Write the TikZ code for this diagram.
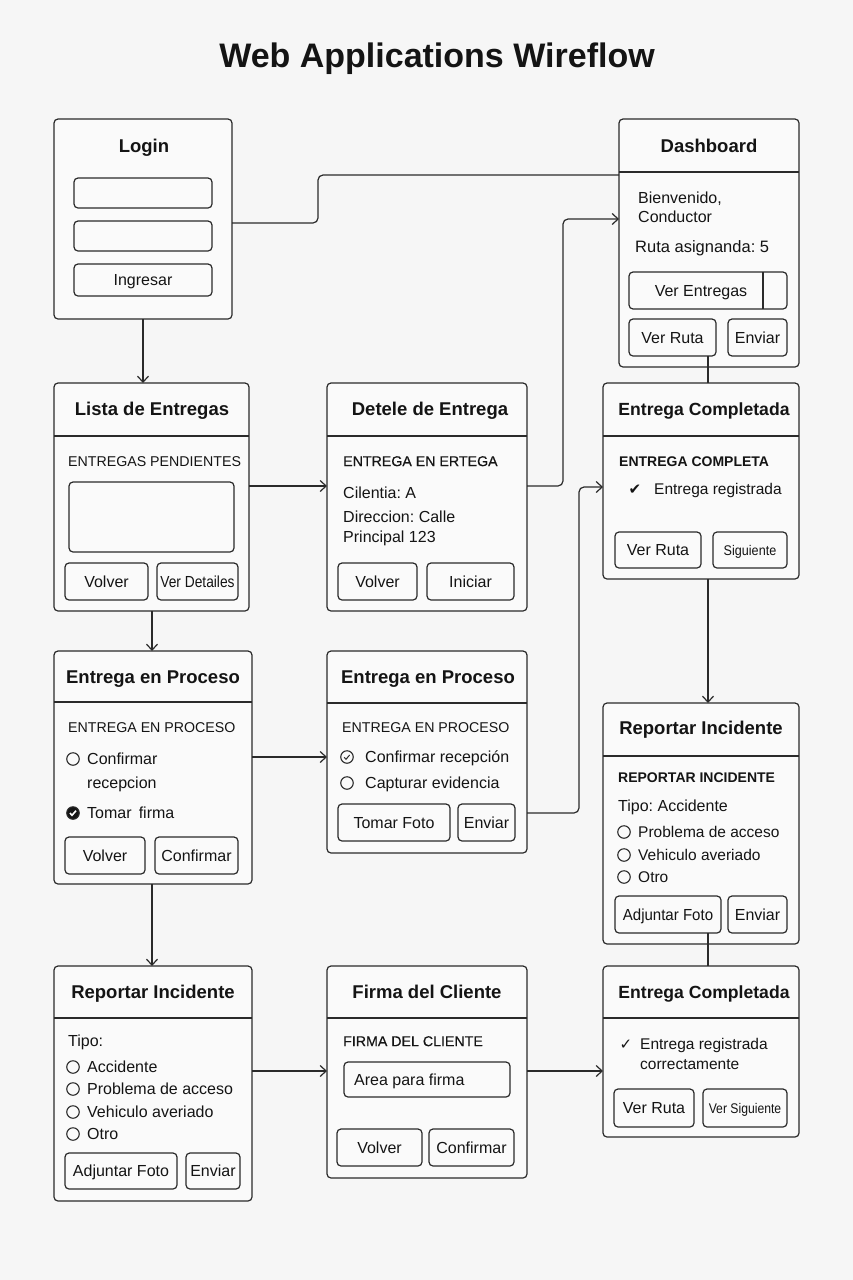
\documentclass[tikz,border=0pt]{standalone}
\usepackage{fontspec}
\usepackage{graphicx}
\setmainfont{Liberation Sans}
\newfontfamily\symfont{DejaVu Sans}
\newfontfamily\medfont[FakeBold=0.5]{Liberation Sans}
\usetikzlibrary{arrows.meta}
\definecolor{bg}{HTML}{F6F6F6}
\definecolor{boxfill}{HTML}{FAFAFA}
\definecolor{ink}{HTML}{2A2A2A}
\definecolor{txtc}{HTML}{141414}
\frenchspacing
\tikzset{
  ln/.style={draw=ink, line width=1.2pt},
  conn/.style={ln, rounded corners=5pt},
  arr/.style={conn, -{Straight Barb[length=6pt,width=11pt]}},
  screen/.style={draw=ink, line width=1.2pt, fill=boxfill, rounded corners=4pt, inner sep=0pt, outer sep=0pt},
  btn/.style={draw=ink, line width=1.2pt, fill=boxfill, rounded corners=4pt, inner sep=0pt, outer sep=0pt, text=txtc, font=\fontsize{16}{19}\selectfont, text height=11.5pt, text depth=0pt},
  ttl/.style={text=txtc, font=\fontsize{18.5}{22}\selectfont\bfseries, inner sep=0pt, text height=13.3pt, text depth=0pt},
  ttlsm/.style={ttl, font=\fontsize{17.6}{21}\selectfont\bfseries, text height=12.6pt},
  txt/.style={anchor=west, text=txtc, font=\fontsize{16}{19}\selectfont, inner sep=0pt, text height=11.5pt, text depth=0pt},
  txts/.style={txt, font=\fontsize{15.5}{18}\selectfont, text height=11.1pt},
  capn/.style={txt, font=\fontsize{14.2}{17}\selectfont, text height=10.2pt},
  capmed/.style={txt, font=\medfont\fontsize{14.2}{17}\selectfont, text height=10.2pt},
  capbold/.style={txt, font=\fontsize{14}{17}\selectfont\bfseries, text height=10pt},
  radio/.style={circle, draw=ink, line width=1.1pt, minimum size=12.5pt, inner sep=0pt},
  symb/.style={inner sep=0pt, text=txtc},
}
\newcommand{\scrn}[5]{\node[screen, minimum width={(#4-#2)*1pt}, minimum height={(#5-#3)*1pt}] (#1) at ({(#2+#4)/2},{(#3+#5)/2}) {};}
\newcommand{\hdr}[2]{\draw[ln] (#1.west |- 0,#2) -- (#1.east |- 0,#2);}
\newcommand{\bt}[6]{\node[btn, minimum width={(#4-#2)*1pt}, minimum height={(#5-#3)*1pt}] (#1) at ({(#2+#4)/2},{(#3+#5)/2}) {#6};}
\newcommand{\rad}[3]{\node[radio] (#1) at (#2,#3) {};}
\begin{document}
\frenchspacing
\begin{tikzpicture}[x=1pt,y=-1pt]
\fill[bg] (0,0) rectangle (853,1280);
\useasboundingbox (0,0) rectangle (853,1280);
\node[text=txtc, font=\fontsize{34}{40}\selectfont\bfseries, inner sep=0pt, text height=24.3pt, text depth=0pt] (title) at (437,55) {Web Applications Wireflow};

% Login
\scrn{login}{54}{119}{232}{319}
\node[ttl] (logint) at (144,146) {Login};
\bt{lf1}{74}{178}{212}{208}{}
\bt{lf2}{74}{221}{212}{251}{}
\bt{lbtn}{74}{264}{212}{296}{Ingresar}

% Dashboard
\scrn{dash}{619}{119}{799}{367}
\hdr{dash}{172}
\node[ttl] (dasht) at (709,146) {Dashboard};
\node[txt] (dt1) at (638,198) {Bienvenido,};
\node[txt] (dt2) at (638,217) {Conductor};
\node[txt, font=\fontsize{16.5}{19}\selectfont] (dt3) at (635,247) {Ruta asignanda: 5};
\bt{dvent}{629}{272}{787}{309}{}
\draw[ln] (dvent.north -| 763,0) -- (dvent.south -| 763,0);
\node[txt, anchor=center] (dventt) at (701,291) {Ver Entregas};
\bt{dvruta}{629}{319}{716}{356}{Ver Ruta}
\bt{denv}{728}{319}{787}{356}{Enviar}

% Lista de Entregas
\scrn{lista}{54}{383}{249}{611}
\hdr{lista}{436}
\node[ttl] (listat) at (152,409) {Lista de Entregas};
\node[capn] (lt1) at (68,461) {ENTREGAS PENDIENTES};
\bt{lbox}{69}{482}{234}{552}{}
\bt{lvol}{65}{563}{148}{600}{Volver}
\bt{lver}{157}{563}{238}{600}{\scalebox{0.86}[1]{Ver Detailes}}

% Detele de Entrega
\scrn{detele}{327}{383}{527}{611}
\hdr{detele}{436}
\node[ttl] (detelet) at (430,409) {Detele de Entrega};
\node[capmed] (det1) at (343,461) {ENTREGA EN ERTEGA};
\node[txt] (det2) at (343,493) {Cilentia: A};
\node[txt] (det3) at (343,517) {Direccion: Calle};
\node[txt] (det4) at (343,537) {Principal 123};
\bt{devol}{338}{563}{417}{600}{Volver}
\bt{deini}{427}{563}{514}{600}{Iniciar}

% Entrega Completada (top)
\scrn{ec1}{603}{383}{799}{579}
\hdr{ec1}{436}
\node[ttlsm] (ec1t) at (704,409) {Entrega Completada};
\node[capbold] (ec1a) at (619,461) {ENTREGA COMPLETA};
\node[symb, font=\symfont\fontsize{15}{18}\selectfont] (ec1ck) at (635,490) {✔};
\node[txts] (ec1b) at (654,489) {Entrega registrada};
\bt{ec1vr}{615}{532}{701}{568}{Ver Ruta}
\bt{ec1sg}{713}{532}{787}{568}{\fontsize{14}{17}\selectfont\scalebox{0.9}[1]{Siguiente}}

% Entrega en Proceso (left)
\scrn{ep1}{54}{651}{252}{884}
\hdr{ep1}{702}
\node[ttl] (ep1t) at (153,677) {Entrega en Proceso};
\node[capn] (ep1a) at (68,727) {ENTREGA EN PROCESO};
\rad{ep1r1}{73}{759}
\node[txt] (ep1b) at (87,759) {Confirmar};
\node[txt] (ep1c) at (87,783) {recepcion};
\node[radio, fill=txtc] (ep1r2) at (73,813) {};
\draw[white, line width=1.6pt] ([shift={(-3,0)}]ep1r2.center) -- ++(2,2.3) -- ++(4,-4.6);
\node[txt] (ep1d) at (87,813) {Tomar\,\ firma};
\bt{ep1vol}{65}{837}{145}{874}{Volver}
\bt{ep1conf}{155}{837}{238}{874}{Confirmar}

% Entrega en Proceso (middle)
\scrn{ep2}{327}{651}{527}{853}
\hdr{ep2}{703}
\node[ttl] (ep2t) at (428,677) {Entrega en Proceso};
\node[capn] (ep2a) at (342,727) {ENTREGA EN PROCESO};
\rad{ep2r1}{347}{757}
\draw[ink, line width=1pt] ([shift={(-2.8,0.3)}]ep2r1.center) -- ++(1.8,2) -- ++(3.6,-4.3);
\node[txt] (ep2b) at (365,757) {Confirmar recepción};
\rad{ep2r2}{347}{783}
\node[txt] (ep2c) at (365,783) {Capturar evidencia};
\bt{ep2foto}{338}{804}{450}{841}{Tomar Foto}
\bt{ep2env}{458}{804}{515}{841}{Enviar}

% Reportar Incidente (right)
\scrn{ri2}{603}{703}{799}{944}
\hdr{ri2}{756}
\node[ttl] (ri2t) at (701,728) {Reportar Incidente};
\node[capbold] (ri2a) at (618,777) {REPORTAR INCIDENTE};
\node[txt] (ri2b) at (618,806) {Tipo: Accidente};
\rad{ri2r1}{624}{832}
\node[txts] (ri2c) at (638,832) {Problema de acceso};
\rad{ri2r2}{624}{855}
\node[txts] (ri2d) at (638,855) {Vehiculo averiado};
\rad{ri2r3}{624}{877}
\node[txts] (ri2e) at (638,877) {Otro};
\bt{ri2adj}{615}{896}{721}{933}{\scalebox{0.94}[1]{Adjuntar Foto}}
\bt{ri2env}{728}{896}{787}{933}{Enviar}

% Reportar Incidente (left)
\scrn{ri1}{54}{966}{252}{1201}
\hdr{ri1}{1018}
\node[ttl] (ri1t) at (153,992) {Reportar Incidente};
\node[txt] (ri1a) at (68,1041) {Tipo:};
\rad{ri1r1}{73}{1067}
\node[txt] (ri1b) at (87,1067) {Accidente};
\rad{ri1r2}{73}{1089}
\node[txt] (ri1c) at (87,1089) {Problema de acceso};
\rad{ri1r3}{73}{1112}
\node[txt] (ri1d) at (87,1112) {Vehiculo averiado};
\rad{ri1r4}{73}{1134}
\node[txt] (ri1e) at (87,1134) {Otro};
\bt{ri1adj}{65}{1153}{177}{1189}{Adjuntar Foto}
\bt{ri1env}{186}{1153}{240}{1189}{Enviar}

% Firma del Cliente
\scrn{firma}{327}{966}{527}{1178}
\hdr{firma}{1018}
\node[ttl] (firmat) at (427,992) {Firma del Cliente};
\node[capmed] (firmaa) at (343,1041) {FIRMA DEL CLIENTE};
\bt{ffield}{344}{1062}{510}{1097}{}
\node[txt] (ffieldt) at (354,1080) {Area para firma};
\bt{fvol}{337}{1129}{422}{1166}{Volver}
\bt{fconf}{429}{1129}{514}{1166}{Confirmar}

% Entrega Completada (bottom)
\scrn{ec2}{603}{966}{799}{1137}
\hdr{ec2}{1018}
\node[ttlsm] (ec2t) at (704,992) {Entrega Completada};
\node[symb, font=\symfont\fontsize{15}{18}\selectfont] (ec2ck) at (626,1045) {✓};
\node[txts] (ec2a) at (640,1044) {Entrega registrada};
\node[txts] (ec2b) at (640,1064) {correctamente};
\bt{ec2vr}{614}{1089}{694}{1127}{Ver Ruta}
\bt{ec2vs}{703}{1089}{787}{1127}{\fontsize{14}{17}\selectfont\scalebox{0.87}[1]{Ver Siguiente}}

% Connectors
\draw[conn] (login.east |- 0,223) -- (318,223) -- (318,175) -- (dash.west |- 0,175);
\draw[arr] (login.south -| 143,0) -- (lista.north -| 143,0);
\draw[conn] (dvruta.south -| 708,0) -- (ec1.north -| 708,0);
\draw[arr] (lista.east |- 0,486) -- (detele.west |- 0,486);
\draw[arr] (detele.east |- 0,486) -- (563,486) -- (563,219) -- (dash.west |- 0,219);
\draw[arr] (lista.south -| 152,0) -- (ep1.north -| 152,0);
\draw[arr] (ep1.east |- 0,757) -- (ep2.west |- 0,757);
\draw[arr] (ep2.east |- 0,813) -- (579,813) -- (579,487) -- (ec1.west |- 0,487);
\draw[arr] (ec1.south -| 708,0) -- (ri2.north -| 708,0);
\draw[conn] (ri2adj.south -| 708,0) -- (ec2.north -| 708,0);
\draw[arr] (ep1.south -| 152,0) -- (ri1.north -| 152,0);
\draw[arr] (ri1.east |- 0,1071) -- (firma.west |- 0,1071);
\draw[arr] (firma.east |- 0,1071) -- (ec2.west |- 0,1071);
\end{tikzpicture}
\end{document}
